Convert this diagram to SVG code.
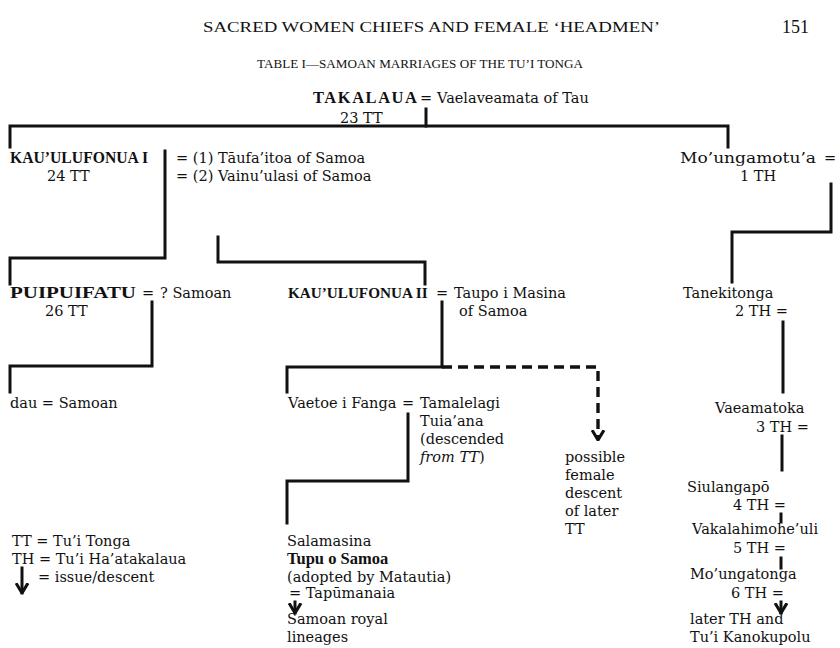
<svg xmlns="http://www.w3.org/2000/svg" width="840" height="648" viewBox="0 0 840 648">
<defs>
  <!-- open chevron head for issue/descent lines -->
  <marker id="arrow" viewBox="0 0 10 12" refX="9" refY="6" markerWidth="11" markerHeight="15" markerUnits="userSpaceOnUse" orient="auto">
    <path d="M0,0.6 L9,6 L0,11.4" fill="none" stroke="#111" stroke-width="2.8"/>
  </marker>
  <style>
    text { font-family: "DejaVu Serif", "Liberation Serif", serif; font-size: 14.5px; fill: #111; }
    .b { font-family: "Liberation Serif", serif; font-weight: bold; font-size: 16.5px; }
    .i { font-style: italic; }
    .cap { font-family: "Liberation Serif", serif; font-size: 15px; }
    .ttl { font-family: "Liberation Serif", serif; font-size: 13px; }
    .pg { font-family: "Liberation Serif", serif; font-size: 18px; }
    .ln { fill: none; stroke: #111; stroke-width: 3; stroke-linecap: square; stroke-linejoin: miter; }
    .dash { stroke-dasharray: 10 6; stroke-linecap: butt; stroke-width: 3.4; }
  </style>
</defs>
<rect width="840" height="648" fill="#fff"/>

<!-- running head -->
<g id="page-head">
  <text class="cap" x="203" y="32" textLength="457" lengthAdjust="spacingAndGlyphs">SACRED WOMEN CHIEFS AND FEMALE ‘HEADMEN’</text>
  <text class="pg" x="782" y="33">151</text>
  <text class="ttl" x="257" y="68" textLength="326" lengthAdjust="spacingAndGlyphs">TABLE I—SAMOAN MARRIAGES OF THE TU’I TONGA</text>
</g>

<!-- lines of descent -->
<g id="connectors">
  <path class="ln" d="M426,109 V126"/>
  <path class="ln" d="M10,147 V126 H728 V147"/>
  <path class="ln" d="M165,151 V258 H10 V284"/>
  <path class="ln" d="M218,237 V262 H425 V284"/>
  <path class="ln" d="M831,184 V232 H732 V282"/>
  <path class="ln" d="M152,302 V366 H10 V392"/>
  <path class="ln" d="M442,302 V367 H287 V392"/>
  <path class="ln dash" d="M442,367 H598 V440" marker-end="url(#arrow)"/>
  <path class="ln" d="M408,414 V481 H287 V523"/>
  <path class="ln" d="M295,602 V613" marker-end="url(#arrow)"/>
  <path class="ln" d="M783,322 V392"/>
  <path class="ln" d="M782,436 V470"/>
  <path class="ln" d="M781,514 V522"/>
  <path class="ln" d="M781,558 V568"/>
  <path class="ln" d="M781,602 V613" marker-end="url(#arrow)"/>
  <path class="ln" d="M22,568 V593" marker-end="url(#arrow)"/>
</g>

<g id="takalaua">
  <text class="b" x="313" y="103" textLength="104" lengthAdjust="spacing">TAKALAUA</text>
  <text x="420" y="103">=</text>
  <text x="437" y="103">Vaelaveamata of Tau</text>
  <text x="340" y="123">23 TT</text>
</g>

<g id="kauulufonua-1">
  <text class="b" x="10" y="163" textLength="138" lengthAdjust="spacingAndGlyphs">KAU’ULUFONUA I</text>
  <text x="47" y="181">24 TT</text>
  <text x="176" y="163">= (1) Tāufa’itoa of Samoa</text>
  <text x="176" y="181">= (2) Vainu’ulasi of Samoa</text>
</g>

<g id="moungamotua">
  <text x="680" y="163" textLength="136" lengthAdjust="spacingAndGlyphs">Mo’ungamotu’a</text>
  <text x="824" y="163">=</text>
  <text x="740" y="181">1 TH</text>
</g>

<g id="puipuifatu">
  <text class="b" x="10" y="298" textLength="126" lengthAdjust="spacingAndGlyphs">PUIPUIFATU</text>
  <text x="142" y="298">=</text>
  <text x="160" y="298">? Samoan</text>
  <text x="45" y="316">26 TT</text>
</g>

<g id="kauulufonua-2">
  <text class="b" x="288" y="298" style="font-size:15.2px">KAU’ULUFONUA II</text>
  <text x="436" y="298">=</text>
  <text x="454" y="298">Taupo i Masina</text>
  <text x="459" y="316">of Samoa</text>
</g>

<g id="tanekitonga">
  <text x="683" y="298">Tanekitonga</text>
  <text x="735" y="316">2 TH =</text>
</g>

<g id="dau">
  <text x="10" y="408">dau = Samoan</text>
</g>

<g id="vaetoe">
  <text x="288" y="408">Vaetoe i Fanga</text>
  <text x="402" y="408">=</text>
  <text x="420" y="408">Tamalelagi</text>
  <text x="420" y="426">Tuia’ana</text>
  <text x="420" y="444">(descended</text>
  <text x="420" y="462"><tspan class="i">from TT</tspan>)</text>
</g>

<g id="female-descent">
  <text x="565" y="462">possible</text>
  <text x="565" y="480">female</text>
  <text x="565" y="498">descent</text>
  <text x="565" y="516">of later</text>
  <text x="565" y="534">TT</text>
</g>

<g id="vaeamatoka">
  <text x="715" y="413">Vaeamatoka</text>
  <text x="756" y="432">3 TH =</text>
</g>

<g id="siulangapo">
  <text x="687" y="492">Siulangapō</text>
  <text x="733" y="510">4 TH =</text>
</g>

<g id="vakalahimoheuli">
  <text x="692" y="534">Vakalahimohe’uli</text>
  <text x="733" y="553">5 TH =</text>
</g>

<g id="moungatonga">
  <text x="690" y="579">Mo’ungatonga</text>
  <text x="731" y="598">6 TH =</text>
</g>

<g id="later-th">
  <text x="690" y="624">later TH and</text>
  <text x="690" y="642">Tu’i Kanokupolu</text>
</g>

<g id="salamasina">
  <text x="287" y="546">Salamasina</text>
  <text class="b" x="287" y="564">Tupu o Samoa</text>
  <text x="287" y="582">(adopted by Matautia)</text>
  <text x="289" y="598">= Tapūmanaia</text>
</g>

<g id="samoan-lineages">
  <text x="287" y="624">Samoan royal</text>
  <text x="287" y="642">lineages</text>
</g>

<g id="legend">
  <text x="12" y="546">TT = Tu’i Tonga</text>
  <text x="12" y="564">TH = Tu’i Ha’atakalaua</text>
  <text x="38" y="582">= issue/descent</text>
</g>
</svg>
